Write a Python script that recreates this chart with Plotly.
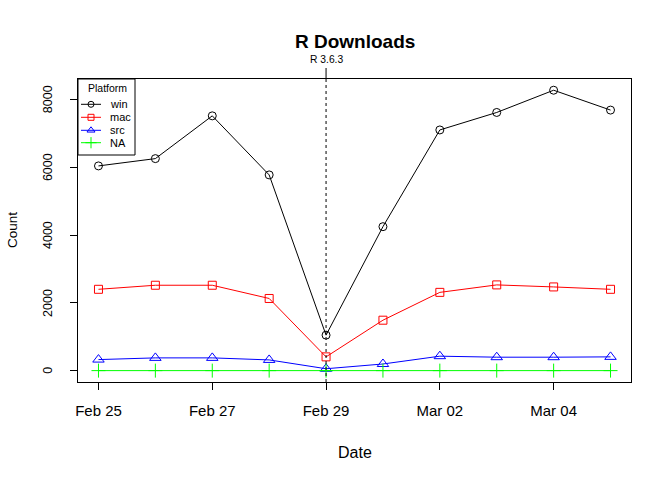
import plotly.graph_objects as go
import pandas as pd

dates = ["2020-02-25", "2020-02-26", "2020-02-27", "2020-02-28", "2020-02-29",
         "2020-03-01", "2020-03-02", "2020-03-03", "2020-03-04", "2020-03-05"]
win = [6035, 6250, 7510, 5770, 1050, 4245, 7095, 7610, 8265, 7680]
mac = [2400, 2520, 2520, 2130, 410, 1490, 2310, 2530, 2470, 2400]
src = [330, 380, 380, 320, 60, 200, 430, 400, 400, 410]
na = [5, 5, 5, 5, 5, 5, 5, 5, 5, 5]
platforms = ["win", "mac", "src", "NA"]
release_date = "2020-02-29"
release_label = "R 3.6.3"
xtick_vals = ["2020-02-25", "2020-02-27", "2020-02-29", "2020-03-02", "2020-03-04"]
xtick_text = ["Feb 25", "Feb 27", "Feb 29", "Mar 02", "Mar 04"]
ytick_vals = [0, 2000, 4000, 6000, 8000]
ytick_text = ["0", "2000", "4000", "6000", "8000"]

styles = [
    ("black", "circle-open", 8, 6),
    ("#FF0000", "square-open", 8, 6),
    ("#0000FF", "triangle-up-open", 10, 7),
    ("#00FF00", "cross-thin-open", 10, 8),
]
values = [win, mac, src, na]

font = "Liberation Sans, Arial, Helvetica, sans-serif"

# plot region in pixels
L, R_, T, B = 78, 631, 79, 382
W, H = 672, 480
def fx(px):
    return (px - L) / (R_ - L)
def fy(py):
    return (B - py) / (B - T)

fig = go.Figure()
for name, vals, (col, sym, sz, _) in zip(platforms, values, styles):
    fig.add_trace(go.Scatter(
        x=dates, y=vals, name=name, mode="lines+markers", showlegend=False,
        line=dict(color=col, width=1),
        marker=dict(symbol=sym, size=sz, color=col, line=dict(color=col, width=1)),
    ))

# manual R-style legend
leg_y = [104.3, 117.3, 130.3, 142.7]
for name, (col, sym, sz, lsz), py in zip(platforms, styles, leg_y):
    fig.add_trace(go.Scatter(
        x=[fx(81), fx(91), fx(101)], y=[fy(py)] * 3, xaxis="x2", yaxis="y2",
        mode="lines", line=dict(color=col, width=1), showlegend=False, hoverinfo="skip"))
    fig.add_trace(go.Scatter(
        x=[fx(91)], y=[fy(py)], xaxis="x2", yaxis="y2", mode="markers",
        marker=dict(symbol=sym, size=lsz, color=col, line=dict(color=col, width=1)),
        showlegend=False, hoverinfo="skip"))
    fig.add_annotation(x=fx(108), y=fy(py), xref="paper", yref="paper", text=name,
                       showarrow=False, xanchor="left", yanchor="middle",
                       font=dict(size=11, color="black"))
fig.add_annotation(x=fx(107), y=fy(88), xref="paper", yref="paper", text="Platform",
                   showarrow=False, xanchor="center", yanchor="middle",
                   font=dict(size=10.5, color="black"))
fig.add_shape(type="rect", xref="paper", yref="paper", x0=fx(78), x1=fx(135),
              y0=fy(155), y1=fy(79), line=dict(color="black", width=1), layer="above")

d0 = pd.Timestamp(dates[0]); d1 = pd.Timestamp(dates[-1])
span = d1 - d0
xr = [d0 - span * 0.04, d1 + span * 0.04]
ymax = max(win)
yr = [-0.04 * ymax, ymax * 1.04]

fig.add_shape(type="line", xref="x", yref="paper", x0=release_date, x1=release_date,
              y0=0, y1=1, line=dict(color="black", width=1, dash="dot"))
fig.add_shape(type="line", xref="x", yref="paper", x0=release_date, x1=release_date,
              y0=1, y1=fy(68), line=dict(color="black", width=1))
fig.add_annotation(x=release_date, xref="x", y=fy(59), yref="paper", text=release_label,
                   showarrow=False, font=dict(size=10.3, color="black"), yanchor="middle")

# rotated y tick labels (R style, las=0)
for v, t in zip(ytick_vals, ytick_text):
    fig.add_annotation(x=fx(48), y=v, xref="paper", yref="y", text=t, showarrow=False,
                       textangle=-90, xanchor="center", yanchor="middle",
                       font=dict(size=12.5, color="black"))

# axis titles and main title
fig.add_annotation(x=fx(355), y=fy(452), xref="paper", yref="paper", text="Date",
                   showarrow=False, font=dict(size=16, color="black"),
                   xanchor="center", yanchor="middle")
fig.add_annotation(x=fx(12), y=fy(230), xref="paper", yref="paper", text="Count",
                   showarrow=False, textangle=-90, font=dict(size=13.5, color="black"),
                   xanchor="center", yanchor="middle")
fig.add_annotation(x=fx(354.5), y=fy(41), xref="paper", yref="paper",
                   text="<b>R Downloads</b>", showarrow=False,
                   font=dict(size=19, color="black"), xanchor="center", yanchor="middle")

fig.update_layout(
    width=W, height=H,
    paper_bgcolor="white", plot_bgcolor="white",
    font=dict(family=font, color="black", size=13),
    margin=dict(l=L, r=W - R_, t=T, b=H - B, pad=0),
    xaxis=dict(type="date", range=xr, tickvals=xtick_vals, ticktext=xtick_text,
               ticks="outside", ticklen=7, tickcolor="black", showgrid=False,
               zeroline=False, showline=True, linecolor="black", linewidth=1, mirror=True,
               automargin=False, ticklabelstandoff=8, tickfont=dict(size=15)),
    yaxis=dict(range=yr, tickvals=ytick_vals, ticks="outside", ticklen=7, tickcolor="black",
               showgrid=False, zeroline=False, showline=True, linecolor="black", linewidth=1,
               mirror=True, showticklabels=False, automargin=False),
    xaxis2=dict(overlaying="x", range=[0, 1], visible=False, fixedrange=True),
    yaxis2=dict(overlaying="y", range=[0, 1], visible=False, fixedrange=True),
    showlegend=False,
)

fig.write_html("out.html", config={"displayModeBar": False},
               post_script="document.body.style.margin='0px';")
